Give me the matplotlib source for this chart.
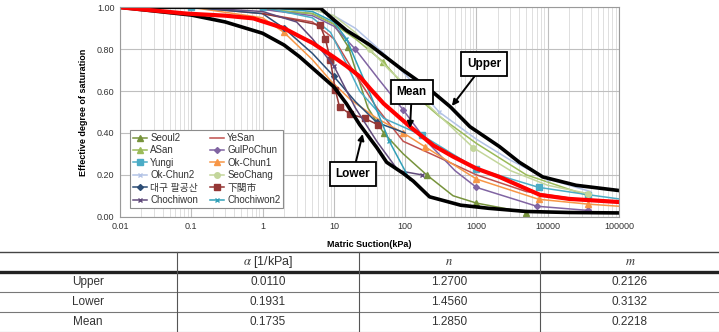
import matplotlib
matplotlib.use("Agg")
from matplotlib import pyplot as plt
from matplotlib.ticker import FixedLocator, NullFormatter, LogLocator

plt.rcParams['font.family'] = ['Liberation Sans', 'Noto Sans CJK KR']
plt.rcParams['mathtext.fontset'] = 'stix'

# envelope / mean curves
upper_x = [0.01, 0.1, 1, 6.5, 10, 15, 22, 32, 50, 93, 200, 430, 810, 2100, 4000, 8500, 25000, 100000]
upper_y = [1.0, 1.0, 1.0, 0.995, 0.94, 0.89, 0.855, 0.82, 0.77, 0.70, 0.62, 0.525, 0.43, 0.335, 0.26, 0.19, 0.15, 0.125]
lower_x = [0.01, 0.1, 0.3, 1, 2, 3.3, 5, 10, 15, 23, 40, 55, 94, 130, 220, 600, 1500, 5000, 20000, 100000]
lower_y = [1.0, 0.963, 0.93, 0.876, 0.82, 0.764, 0.71, 0.62, 0.54, 0.44, 0.33, 0.26, 0.207, 0.17, 0.095, 0.055, 0.04, 0.025, 0.02, 0.018]
mean_x = [0.01, 0.086, 0.3, 0.74, 2, 3.35, 5, 9.8, 15, 23, 32, 50, 117, 250, 470, 1000, 2100, 7800, 20000, 100000]
mean_y = [1.0, 0.97, 0.96, 0.947, 0.9, 0.86, 0.83, 0.764, 0.72, 0.67, 0.613, 0.54, 0.43, 0.34, 0.287, 0.23, 0.19, 0.104, 0.085, 0.07]

# sample series
seoul2_x = [1, 5, 10, 16, 22, 30, 50, 94, 200, 470, 1000, 5000]
seoul2_y = [0.99, 0.97, 0.92, 0.81, 0.66, 0.52, 0.40, 0.30, 0.20, 0.10, 0.065, 0.02]
yesan_x = [0.1, 1, 5, 10, 20, 40, 94, 310, 1000, 5000, 30000, 100000]
yesan_y = [1.0, 0.97, 0.93, 0.85, 0.68, 0.52, 0.36, 0.28, 0.20, 0.12, 0.08, 0.07]
asan_x = [1, 5, 10, 20, 49, 100, 300, 1000, 5000, 37000]
asan_y = [0.99, 0.97, 0.92, 0.85, 0.74, 0.62, 0.48, 0.35, 0.20, 0.10]
gulpo_x = [1, 5, 10, 20, 44, 94, 200, 500, 1000, 7000, 37000]
gulpo_y = [0.99, 0.96, 0.91, 0.80, 0.65, 0.51, 0.36, 0.22, 0.14, 0.05, 0.03]
yungi_x = [0.1, 1, 5, 9, 15, 23, 50, 170, 1000, 7500, 37000, 100000]
yungi_y = [1.0, 1.0, 0.95, 0.88, 0.73, 0.60, 0.47, 0.39, 0.23, 0.14, 0.105, 0.085]
okchun1_x = [0.1, 1, 2, 5, 9, 17, 40, 94, 190, 1000, 7500, 37000, 100000]
okchun1_y = [1.0, 0.95, 0.88, 0.75, 0.65, 0.56, 0.47, 0.40, 0.334, 0.18, 0.083, 0.06, 0.05]
okchun2_x = [1, 5, 10, 20, 50, 100, 300, 1000, 3000, 10000, 40000]
okchun2_y = [1.0, 0.99, 0.96, 0.90, 0.78, 0.68, 0.50, 0.37, 0.27, 0.18, 0.12]
seochang_x = [1, 5, 10, 20, 32, 60, 200, 900, 3000, 10000, 37000]
seochang_y = [1.0, 0.99, 0.96, 0.88, 0.80, 0.70, 0.54, 0.33, 0.22, 0.15, 0.11]
daegu_x = [0.1, 1, 2, 5, 10, 20, 40, 100]
daegu_y = [1.0, 0.97, 0.90, 0.78, 0.67, 0.55, 0.45, 0.40]
shimo_x = [1, 6.4, 7.6, 8.9, 10.5, 12, 17, 27, 41]
shimo_y = [0.97, 0.915, 0.85, 0.75, 0.605, 0.525, 0.49, 0.47, 0.44]
chochi_x = [0.1, 1, 3, 5, 10, 20, 40, 80, 170]
chochi_y = [1.0, 0.98, 0.93, 0.85, 0.72, 0.52, 0.36, 0.22, 0.20]
chochi2_x = [1, 5, 10, 15, 20, 32, 60, 117]
chochi2_y = [1.0, 0.98, 0.93, 0.85, 0.75, 0.59, 0.36, 0.175]

xticks = [0.01, 0.1, 1, 10, 100, 1000, 10000, 100000]
xticklabels = ['0.01', '0.1', '1', '10', '100', '1000', '10000', '100000']
yticks = [0.0, 0.2, 0.4, 0.6, 0.8, 1.0]

# table contents
col_heads = [r'$\alpha$ [1/kPa]', r'$n$', r'$m$']
row_names = ['Upper', 'Lower', 'Mean']
alpha_vals = ['0.0110', '0.1931', '0.1735']
n_vals = ['1.2700', '1.4560', '1.2850']
m_vals = ['0.2126', '0.3132', '0.2218']

W, H = 719, 332
fig = plt.figure(figsize=(W / 100, H / 100), dpi=100)
ax = fig.add_axes([120 / W, 1 - 216.7 / H, 499 / W, 209.4 / H])

# name, x, y, colour, marker, which points get a marker
series = [
    ('Seoul2', seoul2_x, seoul2_y, '#77933C', '^', [3, 6, 8, 10, 11]),
    ('YeSan', yesan_x, yesan_y, '#C0504D', None, None),
    ('ASan', asan_x, asan_y, '#9BBB59', '^', [4, 9]),
    ('GulPoChun', gulpo_x, gulpo_y, '#8064A2', 'D', [3, 5, 8, 9, 10]),
    ('Yungi', yungi_x, yungi_y, '#4BACC6', 's', [0, 1, 7, 8, 9, 10]),
    ('Ok-Chun1', okchun1_x, okchun1_y, '#F79646', '^', [2, 7, 8, 9, 10, 11]),
    ('Ok-Chun2', okchun2_x, okchun2_y, '#B3C3E6', 'x', [6, 9]),
    ('SeoChang', seochang_x, seochang_y, '#C3D69B', 'o', [4, 7, 10]),
    ('대구 팔공산', daegu_x, daegu_y, '#2C4D75', 'D', [2, 4, 6]),
    ('下関市', shimo_x, shimo_y, '#953735', 's', list(range(1, 9))),
    ('Chochiwon', chochi_x, chochi_y, '#604A7B', 'x', [4, 8]),
    ('Chochiwon2', chochi2_x, chochi2_y, '#31A0B8', 'x', [3, 6]),
]
handles = {}
for name, xs, ys, c, mk, every in series:
    ms = 4 if mk in ('s', '^', 'o') else 3
    ln, = ax.plot(xs, ys, color=c, lw=1.1, marker=mk, ms=ms, mew=1, markevery=every, label=name)
    handles[name] = ln

ax.plot(upper_x, upper_y, color='black', lw=2.6, solid_capstyle='round', solid_joinstyle='round')
ax.plot(lower_x, lower_y, color='black', lw=2.6, solid_capstyle='round', solid_joinstyle='round')
ax.plot(mean_x, mean_y, color='#FF0000', lw=3.0, solid_capstyle='round', solid_joinstyle='round')

ax.set_xscale('log')
ax.set_xlim(0.01, 100000)
ax.set_ylim(0, 1)
ax.xaxis.set_major_locator(FixedLocator(xticks))
ax.set_xticklabels(xticklabels)
ax.xaxis.set_minor_locator(LogLocator(base=10, subs=range(2, 10), numticks=20))
ax.xaxis.set_minor_formatter(NullFormatter())
ax.set_yticks(yticks)
ax.set_yticklabels(['%.2f' % v for v in yticks])
ax.tick_params(axis='both', which='both', length=0, labelsize=6.5, pad=4, colors='#333333')
ax.grid(which='major', color='#BFBFBF', lw=0.8)
ax.grid(which='minor', axis='x', color='#D9D9D9', lw=0.6)
ax.set_axisbelow(True)
for s in ax.spines.values():
    s.set_color('#9A9A9A')
    s.set_linewidth(0.8)

ax.set_xlabel('Matric Suction(kPa)', fontsize=6.5, fontweight='bold', labelpad=6)
ax.set_ylabel('Effective degree of saturation', fontsize=6.5, fontweight='bold', labelpad=6)

# legend fills column by column, so order the entries to get the reference's rows
order = ['Seoul2', 'ASan', 'Yungi', 'Ok-Chun2', '대구 팔공산', 'Chochiwon',
         'YeSan', 'GulPoChun', 'Ok-Chun1', 'SeoChang', '下関市', 'Chochiwon2']
leg = ax.legend([handles[k] for k in order], order, loc='lower left', bbox_to_anchor=(0.01, 0.018),
                ncol=2, fontsize=7, handlelength=1.5, handletextpad=0.3, labelspacing=0.25,
                columnspacing=1.2, borderpad=0.3, fancybox=False, framealpha=1)
leg.get_frame().set_edgecolor('#8C8C8C')
leg.get_frame().set_linewidth(0.8)
for t in leg.get_texts():
    t.set_color('#333333')

box = dict(boxstyle='square,pad=0.5', fc='white', ec='black', lw=1.3)
arr = dict(arrowstyle='-|>', color='black', lw=1.4, mutation_scale=9, shrinkA=0, shrinkB=0)
ax.annotate('Upper', xy=(453, 0.529), xytext=(1274, 0.729), fontsize=8.5, fontweight='bold',
            ha='center', va='center', bbox=box, arrowprops=arr, zorder=10)
ax.annotate('Mean', xy=(117, 0.424), xytext=(124, 0.595), fontsize=8.5, fontweight='bold',
            ha='center', va='center', bbox=box, arrowprops=arr, zorder=10)
ax.annotate('Lower', xy=(25.4, 0.395), xytext=(18.5, 0.204), fontsize=8.5, fontweight='bold',
            ha='center', va='center', bbox=box, arrowprops=arr, zorder=10)

# table below the chart
def fy(py):
    return 1 - py / H

def hline(py, lw, c):
    fig.add_artist(plt.Line2D([0, 1], [fy(py), fy(py)], color=c, lw=lw, transform=fig.transFigure))

hline(252, 1.0, '#444444')
hline(272, 2.4, '#222222')
hline(292, 0.8, '#777777')
hline(312, 0.8, '#777777')
hline(331.5, 0.8, '#777777')
for px in [177, 359, 540]:
    fig.add_artist(plt.Line2D([px / W, px / W], [fy(252), fy(332)], color='#555555', lw=0.8,
                              transform=fig.transFigure))

col_cx = [88, 268, 449, 630]
row_cy = [262, 282, 302, 322]
for j, h in enumerate(col_heads):
    fig.text(col_cx[j + 1] / W, fy(row_cy[0]), h, ha='center', va='center', fontsize=9, color='#333333')
for i, name in enumerate(row_names):
    vals = [name, alpha_vals[i], n_vals[i], m_vals[i]]
    for j, v in enumerate(vals):
        fig.text(col_cx[j] / W, fy(row_cy[i + 1]), v, ha='center', va='center', fontsize=8.5,
                 color='#333333')

fig.savefig('out.png', dpi=100)
